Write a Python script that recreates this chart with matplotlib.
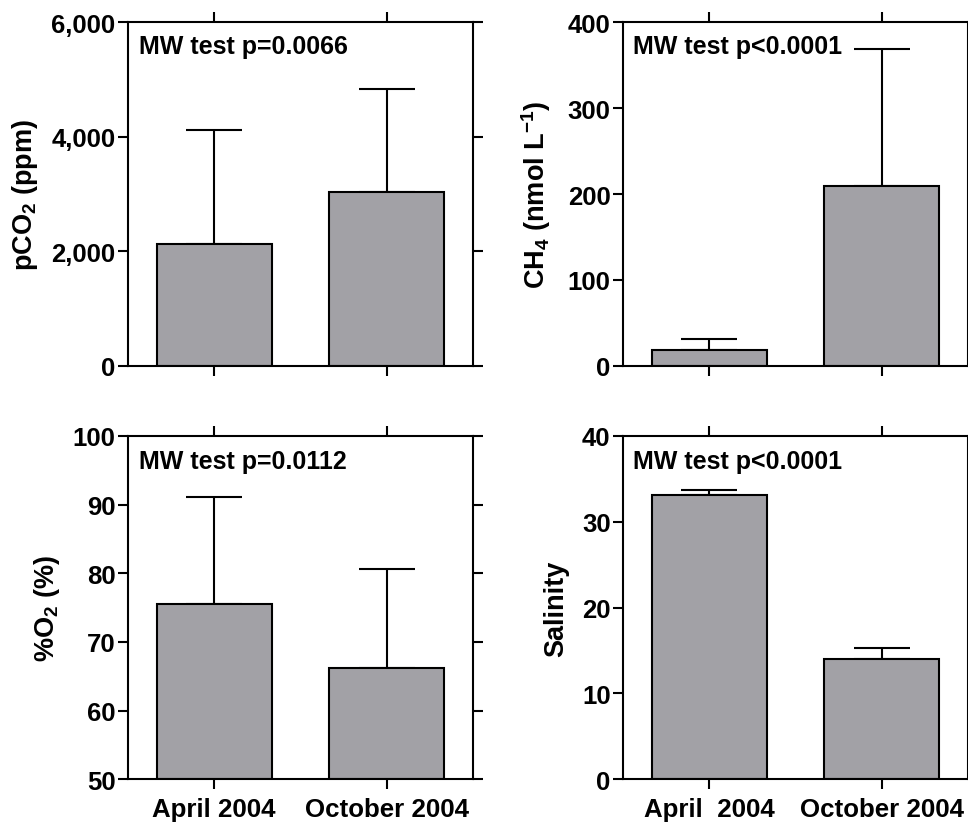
import matplotlib
matplotlib.use('Agg')
import matplotlib.pyplot as plt

# data (mean + upper SD)
months = ['April 2004', 'October 2004']
months_sal = ['April  2004', 'October 2004']

pco2_mean = [2127, 3041]
pco2_err = [1992, 1795]
ch4_mean = [18.3, 209.7]
ch4_err = [12.7, 159.3]
o2_mean = [75.5, 66.2]
o2_err = [15.6, 14.4]
sal_mean = [33.1, 14.05]
sal_err = [0.6, 1.25]

pco2_ticks = [0, 2000, 4000, 6000]
pco2_ticklabels = ['0', '2,000', '4,000', '6,000']
ch4_ticks = [0, 100, 200, 300, 400]
o2_ticks = [50, 60, 70, 80, 90, 100]
sal_ticks = [0, 10, 20, 30, 40]

p_texts = ['MW test p=0.0066', 'MW test p<0.0001', 'MW test p=0.0112', 'MW test p<0.0001']

plt.rcParams['font.family'] = ['Liberation Sans', 'DejaVu Sans']
plt.rcParams['font.weight'] = 'bold'
plt.rcParams['mathtext.default'] = 'regular'

bar_color = '#a2a1a6'
lw = 1.5

fig = plt.figure(figsize=(9.68, 8.28), dpi=100)
w, h = 0.3564, 0.4147
ax1 = fig.add_axes([0.1322, 0.5571, w, h])
ax2 = fig.add_axes([0.6436, 0.5571, w, h])
ax3 = fig.add_axes([0.1322, 0.0576, w, h])
ax4 = fig.add_axes([0.6436, 0.0576, w, h])


def draw(ax, means, errs, ylim, yticks, ylabel, label_x, ptext, text_x, text_y,
         xlabels=None, yticklabels=None, bottom=0):
    x = [0, 1]
    ax.bar(x, [m - bottom for m in means], bottom=bottom, width=0.665, color=bar_color,
           edgecolor='black', linewidth=lw, zorder=2)
    ax.errorbar(x, means, yerr=[[0, 0], errs], fmt='none', ecolor='black',
                elinewidth=lw, capsize=20, capthick=lw, zorder=1)
    ax.set_xlim(-0.5, 1.5)
    ax.set_ylim(*ylim)
    ax.set_xticks(x)
    ax.set_yticks(yticks)
    if yticklabels is not None:
        ax.set_yticklabels(yticklabels)
    if xlabels is not None:
        ax.set_xticklabels(xlabels, fontsize=18.6, fontweight='bold')
    else:
        ax.set_xticklabels(['', ''])
    ax.tick_params(direction='out', length=7, width=lw, top=True, right=True)
    ax.tick_params(axis='y', labelsize=18.5, pad=2)
    ax.tick_params(axis='x', pad=6)
    for lab in ax.get_yticklabels():
        lab.set_fontweight('bold')
    for s in ax.spines.values():
        s.set_linewidth(lw)
    ax.set_ylabel(ylabel, fontsize=19.5, fontweight='bold')
    ax.yaxis.set_label_coords(label_x, 0.5)
    ax.text(text_x, text_y, ptext, transform=ax.transAxes, fontsize=18,
            fontweight='bold', va='baseline', ha='left')


draw(ax1, pco2_mean, pco2_err, (0, 6000), pco2_ticks, 'pCO$_2$ (ppm)', -0.255,
     p_texts[0], 0.032, 0.912, yticklabels=pco2_ticklabels)
draw(ax2, ch4_mean, ch4_err, (0, 400), ch4_ticks, 'CH$_4$ (nmol L$^{-1}$)', -0.203,
     p_texts[1], 0.028, 0.912)
draw(ax3, o2_mean, o2_err, (50, 100), o2_ticks, '%O$_2$ (%)', -0.191,
     p_texts[2], 0.032, 0.907, xlabels=months, bottom=50)
draw(ax4, sal_mean, sal_err, (0, 40), sal_ticks, 'Salinity', -0.157,
     p_texts[3], 0.028, 0.907, xlabels=months_sal)

fig.savefig('out.png', dpi=100)
